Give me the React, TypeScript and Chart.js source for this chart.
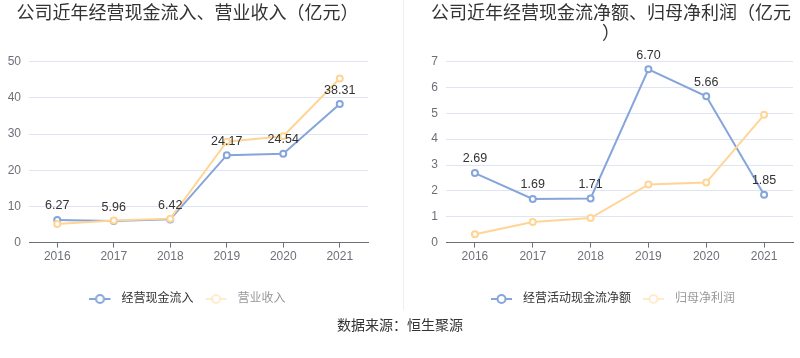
import React, { useEffect, useRef } from "react";
import { Chart, registerables } from "chart.js";

Chart.register(...registerables);

const years = ["2016", "2017", "2018", "2019", "2020", "2021"];

const leftTitle = "公司近年经营现金流入、营业收入（亿元）";
const cashInflow = [6.27, 5.96, 6.42, 24.17, 24.54, 38.31];
const revenue = [5.16, 6.08, 6.63, 27.9, 29.4, 45.4];
const leftNames = ["经营现金流入", "营业收入"];

const rightTitle = ["公司近年经营现金流净额、归母净利润（亿元", "）"];
const netCashFlow = [2.69, 1.69, 1.71, 6.7, 5.66, 1.85];
const netProfit = [0.32, 0.8, 0.95, 2.25, 2.32, 4.94];
const rightNames = ["经营活动现金流净额", "归母净利润"];

const sourceText = "数据来源：恒生聚源";

const BLUE = "#85a5db";
const YELLOW = "#ffd595";
const FONT = "'Liberation Sans', 'Noto Sans CJK SC', sans-serif";

function makeIcon(color: string): HTMLCanvasElement {
  const c = document.createElement("canvas");
  c.width = 26;
  c.height = 12;
  const ctx = c.getContext("2d")!;
  ctx.strokeStyle = color;
  ctx.lineWidth = 2;
  ctx.beginPath();
  ctx.moveTo(0, 6);
  ctx.lineTo(21, 6);
  ctx.stroke();
  ctx.beginPath();
  ctx.arc(10.5, 6, 4, 0, Math.PI * 2);
  ctx.fillStyle = "#fff";
  ctx.fill();
  ctx.stroke();
  return c;
}

const valueLabels = {
  id: "valueLabels",
  afterDatasetsDraw(chart: any) {
    const ctx = chart.ctx;
    const meta = chart.getDatasetMeta(0);
    const data = chart.data.datasets[0].data as number[];
    ctx.save();
    ctx.font = "12.5px " + FONT;
    ctx.fillStyle = "#333";
    ctx.textAlign = "center";
    ctx.textBaseline = "middle";
    meta.data.forEach((pt: any, i: number) => {
      ctx.fillText(data[i].toFixed(2), pt.x, pt.y - 14);
    });
    ctx.restore();
  },
};

function boxShift(legendDx: number, titleDx: number) {
  return {
    id: "boxShift",
    afterLayout(chart: any) {
      if (chart.legend) {
        chart.legend.left += legendDx;
        chart.legend.right += legendDx;
      }
      if (chart.titleBlock) {
        chart.titleBlock.left += titleDx;
        chart.titleBlock.right += titleDx;
      }
    },
  };
}

function buildConfig(
  title: string | string[],
  titleGap: number,
  names: string[],
  s1: number[],
  s2: number[],
  yMax: number,
  step: number,
  padLeft: number,
  yWidth: number,
  padRight: number,
  legendDx: number,
  titleDx: number
): any {
  const icons = [makeIcon(BLUE), makeIcon("rgba(255,213,149,0.45)")];
  const ds = (label: string, data: number[], color: string, order: number) => ({
    label,
    data,
    order,
    borderColor: color,
    backgroundColor: "#fff",
    borderWidth: 2,
    pointRadius: 3,
    pointBorderWidth: 2,
    pointBackgroundColor: "#fff",
    pointBorderColor: color,
    tension: 0,
  });
  return {
    type: "line",
    data: {
      labels: years,
      datasets: [ds(names[0], s1, BLUE, 1), ds(names[1], s2, YELLOW, 0)],
    },
    options: {
      responsive: false,
      animation: false,
      layout: { padding: { left: padLeft, right: padRight, top: 2, bottom: 6 } },
      plugins: {
        tooltip: { enabled: false },
        title: {
          display: true,
          text: title,
          color: "#333",
          font: { size: 18, family: FONT, weight: "normal", lineHeight: 1.1 },
          padding: { top: 2, bottom: titleGap },
        },
        legend: {
          position: "bottom",
          labels: {
            usePointStyle: true,
            pointStyleWidth: 26,
            padding: 12,
            font: { size: 12, family: FONT },
            generateLabels: (chart: any) =>
              chart.data.datasets.map((d: any, i: number) => ({
                text: d.label,
                pointStyle: icons[i],
                fontColor: i === 0 ? "#333" : "#999",
                fillStyle: "#fff",
                strokeStyle: "#fff",
                lineWidth: 0,
                hidden: false,
                datasetIndex: i,
              })),
          },
        },
      },
      scales: {
        x: {
          offset: true,
          afterFit: (scale: any) => {
            scale.height = scale.height + 15;
          },
          grid: {
            drawOnChartArea: false,
            drawTicks: true,
            tickLength: 5,
            offset: false,
            color: "#6e7079",
          },
          border: { color: "#6e7079" },
          ticks: { color: "#6e7079", font: { size: 12, family: FONT }, padding: 2 },
        },
        y: {
          min: 0,
          max: yMax,
          afterFit: (scale: any) => {
            scale.width = yWidth;
          },
          grid: { color: "#e0e6f1", drawTicks: false },
          border: { display: false },
          ticks: {
            stepSize: step,
            color: "#6e7079",
            font: { size: 12, family: FONT },
            padding: 8,
          },
        },
      },
    },
    plugins: [valueLabels, boxShift(legendDx, titleDx)],
  };
}

export default function App() {
  const leftRef = useRef<HTMLCanvasElement>(null);
  const rightRef = useRef<HTMLCanvasElement>(null);

  useEffect(() => {
    const c1 = new Chart(
      leftRef.current!,
      buildConfig(leftTitle, 38, leftNames, cashInflow, revenue, 50, 10, 7, 22, 32, 0, 0)
    );
    const c2 = new Chart(
      rightRef.current!,
      buildConfig(rightTitle, 18, rightNames, netCashFlow, netProfit, 7, 1, 0, 43, 7, 15, 13)
    );
    return () => {
      c1.destroy();
      c2.destroy();
    };
  }, []);

  return (
    <div
      style={{
        position: "fixed",
        left: 0,
        top: 0,
        width: 800,
        height: 358,
        background: "#fff",
        overflow: "hidden",
      }}
    >
      <canvas
        ref={leftRef}
        width={400}
        height={321}
        style={{ position: "absolute", left: 0, top: 0, width: 400, height: 321 }}
      />
      <div
        style={{
          position: "absolute",
          left: 403,
          top: 0,
          width: 1,
          height: 310,
          background: "#eeeeee",
        }}
      />
      <canvas
        ref={rightRef}
        width={397}
        height={321}
        style={{ position: "absolute", left: 403, top: 0, width: 397, height: 321 }}
      />
      <div
        style={{
          position: "absolute",
          left: 0,
          top: 315,
          width: 800,
          textAlign: "center",
          fontFamily: FONT,
          fontSize: 14,
          color: "#333",
          lineHeight: "20px",
        }}
      >
        {sourceText}
      </div>
    </div>
  );
}
